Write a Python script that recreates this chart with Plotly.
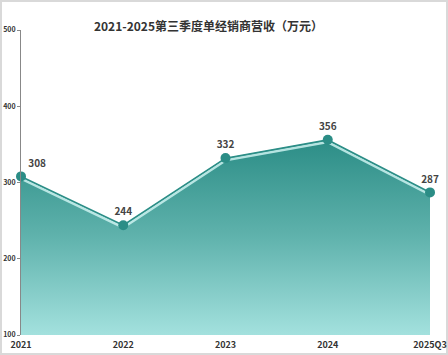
import plotly.graph_objects as go

categories = ["2021", "2022", "2023", "2024", "2025Q3"]
revenue = [308, 244, 332, 356, 287]
y_ticks = [100, 200, 300, 400, 500]
title_text = "2021-2025第三季度单经销商营收（万元）"

W, H = 448, 355
L, R, T, B = 21, 18, 30, 20
pw, ph = W - L - R, H - T - B

font_cjk = "Noto Sans CJK SC, Noto Sans, sans-serif"

fig = go.Figure()

# gradient area
fig.add_trace(go.Scatter(
    x=categories, y=revenue, mode="lines", fill="tozeroy",
    line=dict(width=0, color="rgba(0,0,0,0)"),
    fillgradient=dict(type="vertical", start=100, stop=360,
                      colorscale=[[0, "#a3e1de"], [0.5, "#5fb2ac"], [1, "#2a8c85"]]),
    hoverinfo="skip", showlegend=False,
))
# glow line below the main line
fig.add_trace(go.Scatter(
    x=categories, y=[v - 3 for v in revenue], mode="lines",
    line=dict(width=2.5, color="rgba(205,242,240,0.85)"),
    hoverinfo="skip", showlegend=False,
))
# main line with markers and labels
positions = ["top right"] + ["top center"] * (len(categories) - 1)
fig.add_trace(go.Scatter(
    x=categories, y=revenue, mode="lines+markers+text",
    line=dict(width=1.5, color="#2b8d86"),
    marker=dict(size=10, color="#2b8d86"),
    text=[str(v) for v in revenue], textposition=positions,
    textfont=dict(family=font_cjk, size=10, color="#444444", weight="bold"),
    cliponaxis=False, showlegend=False,
))

fig.update_layout(
    width=W, height=H,
    margin=dict(l=L, r=R, t=T, b=B, autoexpand=False),
    paper_bgcolor="white", plot_bgcolor="white",
    title=dict(text=title_text, x=208.5 / W, xanchor="center",
               y=1 - 27 / H, yanchor="middle",
               font=dict(family=font_cjk, size=12, color="#333333", weight="bold")),
    xaxis=dict(showgrid=False, zeroline=False, showline=False,
               range=[0, len(categories) - 1], ticks="",
               tickfont=dict(family=font_cjk, size=9, color="#333333", weight="bold"),
               ticklabelstandoff=3),
    yaxis=dict(range=[100, 500], tickvals=y_ticks, showgrid=False, zeroline=False,
               showline=True, linecolor="#888888", linewidth=1,
               ticks="outside", ticklen=3, tickcolor="#888888",
               tickfont=dict(family=font_cjk, size=7, color="#333333", weight="bold")),
    shapes=[dict(type="rect", xref="paper", yref="paper",
                 x0=(1 - L) / pw, x1=(W - 1 - L) / pw,
                 y0=(H - B - (H - 1)) / ph, y1=(H - B - 1) / ph,
                 line=dict(color="#d9d9d9", width=2), fillcolor="rgba(0,0,0,0)",
                 layer="below")],
)

fig.write_html("out.html", config={"displayModeBar": False},
               post_script="document.body.style.margin='0';document.body.style.overflow='hidden';")
